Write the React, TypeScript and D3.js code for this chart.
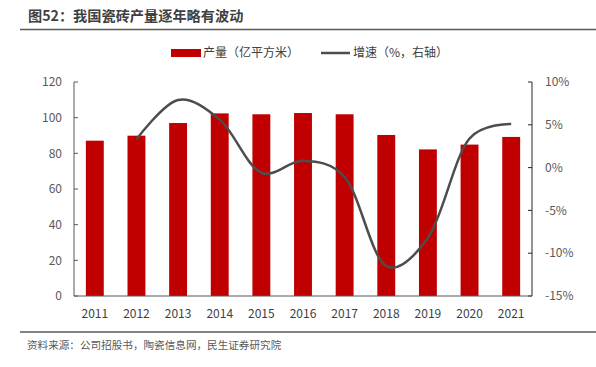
import React from "react";
import * as d3 from "d3";

const years = ["2011","2012","2013","2014","2015","2016","2017","2018","2019","2020","2021"];
const output = [87.1, 89.9, 97.0, 102.4, 101.9, 102.6, 101.9, 90.3, 82.2, 84.9, 89.2];
const growthYears = ["2012","2013","2014","2015","2016","2017","2018","2019","2020","2021"];
const growth = [3.3, 7.9, 5.6, -0.6, 0.8, -1.1, -11.5, -8.2, 3.4, 5.1];
const leftTicks = [0, 20, 40, 60, 80, 100, 120];
const rightTicks = [-15, -10, -5, 0, 5, 10];

const W = 596, H = 367;
const m = { left: 74, right: 532, top: 82, bottom: 296 };
const FONT = "'Noto Sans CJK SC', 'Noto Sans', sans-serif";

export default function App() {
  const x = d3.scaleBand<string>().domain(years).range([m.left, m.right]).paddingInner(0.57).paddingOuter(0.285);
  const yL = d3.scaleLinear().domain([0, 120]).range([m.bottom, m.top]);
  const yR = d3.scaleLinear().domain([-15, 10]).range([m.bottom, m.top]);
  const cx = (y: string) => (x(y) as number) + x.bandwidth() / 2;
  const line = d3.line<number>()
    .x((_, i) => cx(growthYears[i]))
    .y((d) => yR(d))
    .curve(d3.curveCatmullRom.alpha(0.2));
  const tickColor = "#595959";
  return (
    <svg width={W} height={H} style={{ position: "absolute", left: 0, top: 0, background: "#fff" }} fontFamily={FONT}>
      <text x={28} y={21} fontSize={14.2} fontWeight="bold" fill="#404040">图52：我国瓷砖产量逐年略有波动</text>
      <line x1={20} x2={596} y1={29.5} y2={29.5} stroke="#595959" strokeWidth={1.5} />

      {/* legend */}
      <rect x={171} y={49} width={30} height={8} fill="#C00000" />
      <text x={203} y={57} fontSize={12} fill="#404040">产量（亿平方米）</text>
      <line x1={321} x2={350} y1={53} y2={53} stroke="#4d4d4d" strokeWidth={2.5} />
      <text x={353} y={57} fontSize={12} fill="#404040">增速（%，右轴）</text>

      {/* bars */}
      {years.map((y, i) => (
        <rect key={y} x={x(y)} y={yL(output[i])} width={x.bandwidth()} height={m.bottom - yL(output[i])} fill="#C00000" />
      ))}

      {/* axes */}
      <line x1={m.left} x2={m.left} y1={m.top} y2={m.bottom} stroke={tickColor} strokeWidth={1} />
      {leftTicks.map((t) => (
        <g key={t}>
          <line x1={m.left} x2={m.left + 4} y1={yL(t)} y2={yL(t)} stroke={tickColor} />
          <text x={62} y={yL(t)} dy="0.35em" textAnchor="end" fontSize={12} fill="#595959">{t}</text>
        </g>
      ))}
      <line x1={m.right} x2={m.right} y1={m.top} y2={m.bottom} stroke="#262626" strokeWidth={1} />
      {rightTicks.map((t) => (
        <g key={t}>
          <line x1={m.right - 4} x2={m.right} y1={yR(t)} y2={yR(t)} stroke="#262626" />
          <text x={545} y={yR(t)} dy="0.35em" textAnchor="start" fontSize={12} fill="#595959">{t}%</text>
        </g>
      ))}
      <line x1={m.left} x2={m.right} y1={m.bottom} y2={m.bottom} stroke={tickColor} strokeWidth={1.2} />
      {years.map((y) => (
        <text key={y} x={cx(y)} y={314} dy="0.35em" textAnchor="middle" fontSize={12} fill="#404040">{y}</text>
      ))}

      {/* growth line */}
      <path d={line(growth) || ""} fill="none" stroke="#4d4d4d" strokeWidth={2.5} />

      <line x1={20} x2={596} y1={332} y2={332} stroke="#595959" strokeWidth={1.5} />
      <text x={27} y={345} dy="0.35em" fontSize={10.6} fill="#595959">资料来源：公司招股书，陶瓷信息网，民生证券研究院</text>
    </svg>
  );
}
